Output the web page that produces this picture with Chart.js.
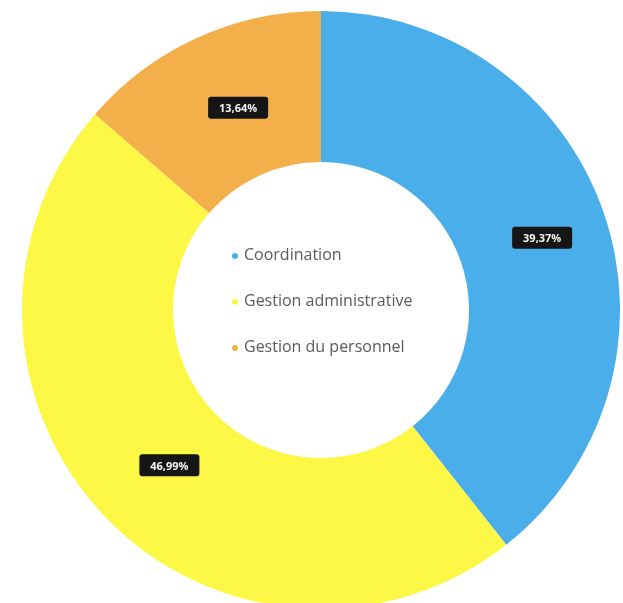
<!DOCTYPE html>
<html>
<head>
<meta charset="utf-8">
<script src="https://cdn.jsdelivr.net/npm/chart.js@4/dist/chart.umd.min.js"></script>
<style>
  html, body { margin: 0; padding: 0; background: #fff; overflow: hidden; }
  body { width: 623px; height: 603px; position: relative; }
  #wrap { position: absolute; left: 22px; top: 11px; width: 598px; height: 598px; }
</style>
</head>
<body>
<div id="wrap"><canvas id="c"></canvas></div>
<script>
const categories = ['Coordination', 'Gestion administrative', 'Gestion du personnel'];
const shares = [39.37, 46.99, 13.64];
const sliceColors = ['#4aaeea', '#fdf846', '#f3b04a'];

// Value tags in dark boxes on each slice
const valueTags = {
  id: 'valueTags',
  afterDatasetsDraw(chart) {
    const ctx = chart.ctx;
    const meta = chart.getDatasetMeta(0);
    ctx.save();
    ctx.font = 'bold 11px "Open Sans", sans-serif';
    ctx.textAlign = 'center';
    ctx.textBaseline = 'middle';
    meta.data.forEach((arc, i) => {
      const p = arc.tooltipPosition();
      const x = p.x + 10, y = p.y + 1;
      const txt = shares[i].toFixed(2).replace('.', ',') + '%';
      const w = 60, h = 22;
      ctx.fillStyle = '#151515';
      ctx.beginPath();
      ctx.roundRect(x - w / 2, y - h / 2, w, h, 3);
      ctx.fill();
      ctx.fillStyle = '#f4f4f4';
      ctx.fillText(txt, x, y + 1);
    });
    ctx.restore();
  }
};

// Legend listed inside the hole
const centerLegend = {
  id: 'centerLegend',
  afterDraw(chart) {
    const ctx = chart.ctx;
    const meta = chart.getDatasetMeta(0);
    const arc = meta.data[0];
    const cx = arc.x, cy = arc.y;
    ctx.save();
    ctx.font = '16px "Open Sans", sans-serif';
    ctx.textBaseline = 'middle';
    ctx.textAlign = 'left';
    const x0 = cx - 86;
    const rowGap = 46;
    const y0 = cy - 55;
    categories.forEach((name, i) => {
      const y = y0 + i * rowGap;
      ctx.fillStyle = sliceColors[i];
      ctx.beginPath();
      ctx.arc(x0, y + 1, 3, 0, Math.PI * 2);
      ctx.fill();
      ctx.fillStyle = '#5a5a5a';
      ctx.fillText(name, x0 + 9, y);
    });
    ctx.restore();
  }
};

new Chart(document.getElementById('c'), {
  type: 'doughnut',
  data: {
    labels: categories,
    datasets: [{
      data: shares,
      backgroundColor: sliceColors,
      borderWidth: 0
    }]
  },
  options: {
    responsive: true,
    maintainAspectRatio: false,
    animation: false,
    cutout: '49.5%',
    layout: { padding: 0 },
    plugins: {
      legend: { display: false },
      tooltip: { enabled: false }
    }
  },
  plugins: [valueTags, centerLegend]
});
</script>
</body>
</html>
